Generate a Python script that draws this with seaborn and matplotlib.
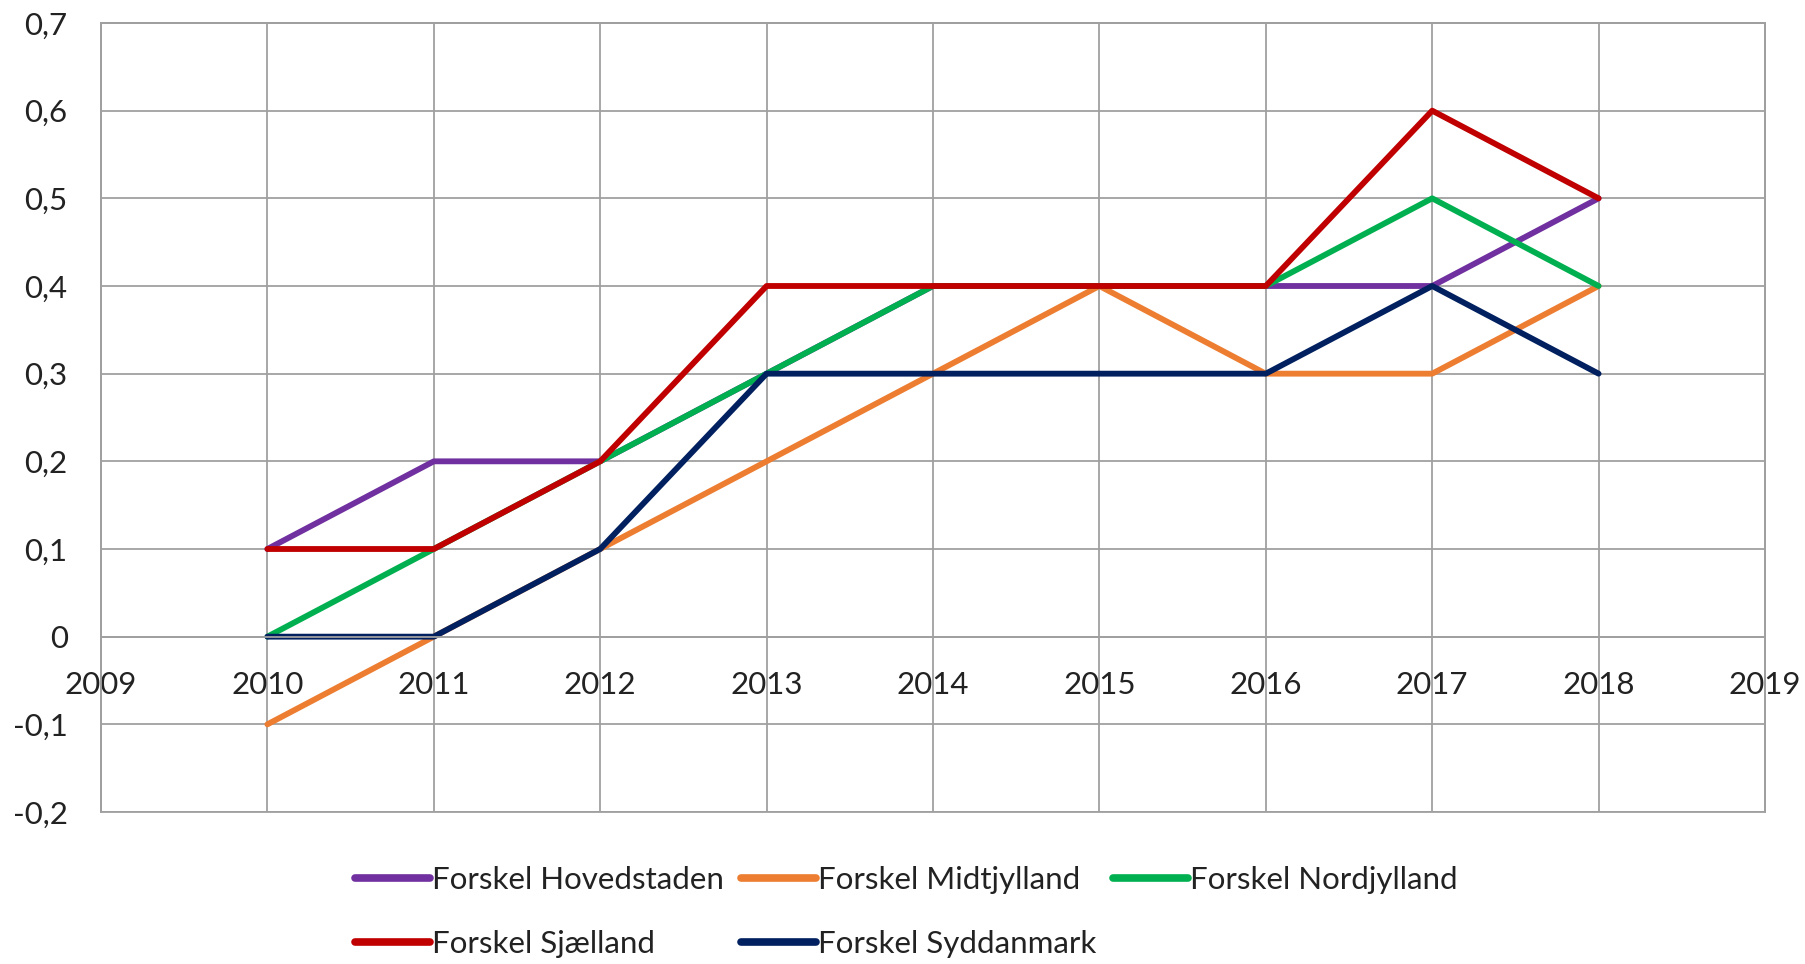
import matplotlib
matplotlib.use("Agg")
import matplotlib.pyplot as plt
from matplotlib.ticker import FuncFormatter, MultipleLocator
import seaborn as sns
import pandas as pd

years = [2010, 2011, 2012, 2013, 2014, 2015, 2016, 2017, 2018]
hovedstaden = [0.1, 0.2, 0.2, 0.3, 0.4, 0.4, 0.4, 0.4, 0.5]
midtjylland = [-0.1, 0.0, 0.1, 0.2, 0.3, 0.4, 0.3, 0.3, 0.4]
nordjylland = [0.0, 0.1, 0.2, 0.3, 0.4, 0.4, 0.4, 0.5, 0.4]
sjaelland = [0.1, 0.1, 0.2, 0.4, 0.4, 0.4, 0.4, 0.6, 0.5]
syddanmark = [0.0, 0.0, 0.1, 0.3, 0.3, 0.3, 0.3, 0.4, 0.3]

series_names = ["Forskel Hovedstaden", "Forskel Midtjylland", "Forskel Nordjylland",
                "Forskel Sjælland", "Forskel Syddanmark"]
series_values = [hovedstaden, midtjylland, nordjylland, sjaelland, syddanmark]
colors = ["#7030A0", "#ED7D31", "#00B050", "#C00000", "#002060"]

rows = []
for name, vals in zip(series_names, series_values):
    for y, v in zip(years, vals):
        rows.append({"year": y, "value": v, "series": name})
df = pd.DataFrame(rows)

sns.set_style("white")
plt.rcParams["font.family"] = ["Lato", "DejaVu Sans"]

fig = plt.figure(figsize=(18.05, 9.64), dpi=100)
ax = fig.add_axes([101 / 1805, 1 - 812 / 964, 1664 / 1805, 789 / 964])

sns.lineplot(data=df, x="year", y="value", hue="series", hue_order=series_names,
             palette=colors, ax=ax, legend=True, sort=False)
for ln in ax.lines:
    ln.set_linewidth(4.2)
    ln.set_solid_capstyle("round")
    ln.set_solid_joinstyle("round")

grid_c = "#A0A0A0"
ax.set_xlim(2009, 2019)
ax.set_ylim(-0.2, 0.7)
ax.xaxis.set_major_locator(MultipleLocator(1))
ax.yaxis.set_major_locator(MultipleLocator(0.1))
ax.grid(True, color=grid_c, linewidth=1.3)
ax.set_axisbelow(True)


def yfmt(v, pos):
    if abs(v) < 1e-9:
        return "0"
    return f"{v:.1f}".replace(".", ",")


ax.yaxis.set_major_formatter(FuncFormatter(yfmt))
ax.xaxis.set_major_formatter(FuncFormatter(lambda v, p: f"{int(round(v))}"))

for s in ["top", "right", "left"]:
    ax.spines[s].set_color(grid_c)
    ax.spines[s].set_linewidth(1.3)
ax.spines["bottom"].set_position(("data", 0))
ax.spines["bottom"].set_color(grid_c)
ax.spines["bottom"].set_linewidth(1.3)
ax.patch.set_edgecolor(grid_c)
ax.patch.set_linewidth(1.3)

ax.tick_params(axis="both", length=0, labelsize=22.5, colors="#222222")
ax.tick_params(axis="x", pad=25)
ax.tick_params(axis="y", pad=24)
ax.set_xlabel("")
ax.set_ylabel("")

handles, labels = ax.get_legend_handles_labels()
for h in handles:
    h.set_linewidth(5.5)
order = [0, 3, 1, 4, 2]
leg = ax.legend([handles[i] for i in order], [labels[i] for i in order],
                ncol=3, loc="upper center", bbox_to_anchor=(0.484, -0.052),
                frameon=False, fontsize=22.5, handlelength=2.4, handletextpad=0.06,
                columnspacing=0.55, labelspacing=1.17, borderaxespad=0)
for t in leg.get_texts():
    t.set_color("#222222")

fig.savefig("out.png", dpi=100)
